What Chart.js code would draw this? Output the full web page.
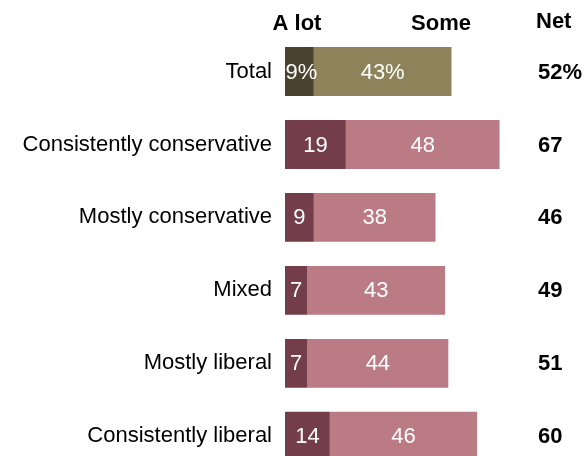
<!DOCTYPE html>
<html>
<head>
<meta charset="utf-8">
<script src="https://cdn.jsdelivr.net/npm/chart.js@4"></script>
<style>
    html, body { margin: 0; padding: 0; background: #fff; overflow: hidden; }
    #wrap { width: 586px; height: 456px; overflow: hidden; }
</style>
</head>
<body>
<div id="wrap"><canvas id="chart" width="586" height="499"></canvas></div>
<script>
const categories = ['Total', 'Consistently conservative', 'Mostly conservative', 'Mixed', 'Mostly liberal', 'Consistently liberal'];
const aLot = [9, 19, 9, 7, 7, 14];
const some = [43, 48, 38, 43, 44, 46];
const net = [52, 67, 46, 49, 51, 60];

const aLotColors = ['#4a4330', '#733d4a', '#733d4a', '#733d4a', '#733d4a', '#733d4a'];
const someColors = ['#8e825a', '#bb7b85', '#bb7b85', '#bb7b85', '#bb7b85', '#bb7b85'];

const FONT = '"Liberation Sans", Arial, sans-serif';

// labels inside bars, headers and the net column
const annotations = {
    id: 'annotations',
    afterDatasetsDraw(chart) {
        const ctx = chart.ctx;
        const yScale = chart.scales.y;
        ctx.save();
        ctx.textBaseline = 'middle';
        ctx.textAlign = 'center';

        chart.data.datasets.forEach((ds, di) => {
            chart.getDatasetMeta(di).data.forEach((bar, i) => {
                const props = bar.getProps(['x', 'base', 'y'], true);
                const cx = (props.x + props.base) / 2;
                const text = i === 0 ? ds.data[i] + '%' : String(ds.data[i]);
                ctx.fillStyle = '#ffffff';
                ctx.font = '22px ' + FONT;
                ctx.fillText(text, cx + (i === 0 && di === 0 ? 2 : 0), props.y + 1);
            });
        });

        ctx.fillStyle = '#000000';
        ctx.font = 'bold 22px ' + FONT;
        ctx.textAlign = 'left';
        net.forEach((v, i) => {
            const text = i === 0 ? v + '%' : String(v);
            ctx.fillText(text, 538, yScale.getPixelForValue(i) + 1);
        });

        ctx.fillText('Net', 536, 22);
        ctx.textAlign = 'center';
        ctx.fillText('A lot', 297, 24);
        ctx.fillText('Some', 441, 24);
        ctx.restore();
    }
};

const ctx = document.getElementById('chart').getContext('2d');
const chart = new Chart(ctx, {
    type: 'bar',
    data: {
        labels: categories,
        datasets: [
            {
                label: 'A lot',
                data: aLot,
                backgroundColor: aLotColors,
                barPercentage: 0.67,
                categoryPercentage: 1
            },
            {
                label: 'Some',
                data: some,
                backgroundColor: someColors,
                barPercentage: 0.67,
                categoryPercentage: 1
            }
        ]
    },
    options: {
        indexAxis: 'y',
        responsive: false,
        animation: false,
        devicePixelRatio: 1,
        layout: { padding: { top: 35, bottom: 0, right: 0, left: 0 } },
        plugins: {
            legend: { display: false },
            tooltip: { enabled: false }
        },
        scales: {
            x: {
                stacked: true,
                display: false,
                min: 0,
                max: 94
            },
            y: {
                stacked: true,
                grid: { display: false, drawTicks: false },
                border: { display: false },
                ticks: {
                    color: '#000000',
                    padding: 13,
                    font: { family: FONT, size: 22 }
                },
                afterFit(scale) {
                    scale.width = 285;
                }
            }
        }
    },
    plugins: [annotations]
});
</script>
</body>
</html>
